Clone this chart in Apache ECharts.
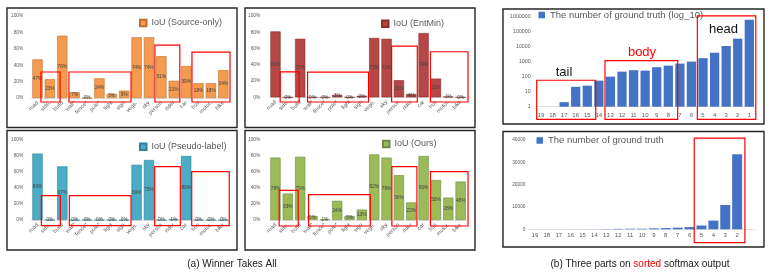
<!DOCTYPE html>
<html><head><meta charset="utf-8">
<script src="https://cdn.jsdelivr.net/npm/echarts@6/dist/echarts.min.js"></script>
<style>html,body{margin:0;padding:0;background:#fff}#c{width:773px;height:276px}</style>
</head><body><div id="c"></div>
<script>
// ---------- data ----------
const classNames = ['road','side.','build','wall*','fence*','pole*','light','sign','vege.','sky','person','rider','car','bus','motor.','bike'];
const iouSourceOnly = [47,23,76,7,0,24,5,9,74,74,51,21,39,18,18,34];
const iouEntMin     = [81,0,72,0,0,3,0,2,73,72,21,4,79,23,1,0];
const iouPseudo     = [83,0,67,0,0,0,0,0,69,75,0,1,80,0,0,0];
const iouOurs       = [78,33,79,5,1,24,5,13,82,78,56,22,80,50,28,48];
const rankLabels = ['19','18','17','16','15','14','13','12','11','10','9','8','7','6','5','4','3','2','1'];
const gtCounts   = [0,0,2,21,25,54,100,215,268,251,424,540,735,1000,1690,3900,10900,33600,600000];

// ---------- layout / annotations ----------
const FONT = 'Liberation Sans, Arial, sans-serif';
const grids = [
  {left:31.3, top:16, width:198.2, height:82},
  {left:269.3, top:16, width:197.5, height:81.3},
  {left:31.3, top:140, width:198.2, height:80},
  {left:269.3, top:140, width:197.5, height:80},
  {left:535.2, top:16.5, width:219.9, height:90.2},
  {left:529, top:140, width:226, height:89.3}
];
const panelBoxes = [[7,8,237,127.5],[245,8,475,127.5],[7,130.5,237,250],[245,130.5,475,250],[503,9,764,124],[503,131.5,764,247]];
// [grid, fromIndex, toIndex, topValue, bottomValue]
const redBoxes = [
  [0,0.28,1.82,31.7,-4.9],[0,2.54,7.55,31.7,-4.9],[0,9.48,11.49,64.6,-4.9],[0,12.47,15.54,56,-4.9],
  [1,0.38,1.92,31.2,-5.8],[1,2.60,7.54,31,-5.8],[1,9.41,11.49,63,-5.8],[1,12.55,15.6,56,-5.8],
  [2,0.31,1.84,30.4,-7.1],[2,2.57,7.55,30.4,-7.1],[2,9.46,11.53,66.6,-7.1],[2,12.45,15.48,60.4,-7.1],
  [3,0.30,1.84,37.1,-7.5],[3,2.68,7.68,31.6,-7.5],[3,9.43,11.46,66.6,-7.5],[3,12.55,15.6,60.4,-7.5],
  [4,-0.37,4.73,57.5,0.145],[4,5.53,11.81,1170,0.145],[4,13.51,18.56,1100000,0.145],
  [5,13.39,17.65,40800,-6000]
];

const chart = echarts.init(document.getElementById('c'), null, {renderer:'canvas'});
const axisLine = {show:true, lineStyle:{color:'#d9d9d9', width:0.8}};
const xAxes = [0,1,2,3].map(i => ({type:'category', gridIndex:i, data:classNames,
  axisTick:{show:false}, axisLine,
  axisLabel:{interval:0, rotate:45, fontSize:5.5, color:'#595959', margin:4, fontFamily:FONT}}));
xAxes.push({type:'category', gridIndex:4, data:rankLabels, axisTick:{show:false}, axisLine,
  axisLabel:{interval:0, fontSize:6, color:'#595959', margin:5.5, fontFamily:FONT}});
xAxes.push({type:'category', gridIndex:5, data:rankLabels.slice(0,18).concat([' ']), axisTick:{show:false}, axisLine,
  axisLabel:{interval:0, fontSize:6, color:'#595959', margin:3.5, fontFamily:FONT}});
const yAxes = [0,1,2,3].map(i => ({type:'value', gridIndex:i, min:0, max:100, interval:20,
  axisLine:{show:false}, axisTick:{show:false}, splitLine:{show:false},
  axisLabel:{formatter:'{value}%', fontSize:4.8, color:'#595959', margin:(i%2?9:8), fontFamily:FONT}}));
yAxes.push({type:'log', gridIndex:4, logBase:10, min:1, max:1000000,
  axisLine:{show:false}, axisTick:{show:false}, splitLine:{show:false},
  axisLabel:{formatter:v=>String(Math.round(v)), fontSize:5.3, color:'#595959', margin:4.5, fontFamily:FONT}});
yAxes.push({type:'value', gridIndex:5, min:0, max:40000, interval:10000,
  axisLine:{show:false}, axisTick:{show:false}, splitLine:{show:false},
  axisLabel:{formatter:v=>String(v), fontSize:4.8, color:'#595959', margin:3.5, fontFamily:FONT}});

function iouSeries(name, data, idx, color, border){
  return {type:'bar', name, xAxisIndex:idx, yAxisIndex:idx, data, barCategoryGap:'17%',
    itemStyle:{color, borderColor:border, borderWidth:0.6},
    label:{show:true, position:'inside', formatter:'{c}%', fontSize:4.7, color:'#404040', textBorderWidth:0, fontFamily:FONT}};
}
const series = [
  iouSeries('IoU (Source-only)', iouSourceOnly, 0, '#F59B4F', '#C06E2A'),
  iouSeries('IoU (EntMin)', iouEntMin, 1, '#B54846', '#8A2D2B'),
  iouSeries('IoU (Pseudo-label)', iouPseudo, 2, '#4BACC6', '#2E8399'),
  iouSeries('IoU (Ours)', iouOurs, 3, '#9BBB59', '#71893F'),
  {type:'bar', name:'The number of ground truth (log_10)', xAxisIndex:4, yAxisIndex:4,
   data: gtCounts.map(v => v > 0 ? v : null), barCategoryGap:'20%', itemStyle:{color:'#4472C4'}},
  {type:'bar', name:'The number of ground truth', xAxisIndex:5, yAxisIndex:5,
   data: gtCounts.slice(0,18), barCategoryGap:'16%', itemStyle:{color:'#4472C4'}}
];
function leg(name, left, top, fs){
  return {data:[name], left, top, padding:0, icon:'rect', itemWidth:6.5, itemHeight:6.5, selectedMode:false,
    textStyle:{fontSize:fs, color:'#595959', fontFamily:FONT}};
}
chart.setOption({
  animation:false,
  grid: grids,
  xAxis: xAxes, yAxis: yAxes, series,
  legend:[
    leg('IoU (Source-only)', 139, 18.5, 9),
    leg('IoU (EntMin)', 381, 19.2, 9),
    leg('IoU (Pseudo-label)', 139, 142.2, 9),
    leg('IoU (Ours)', 382, 139.5, 9),
    leg('The number of ground truth (log_10)', 538.5, 10, 9.5),
    leg('The number of ground truth', 536.5, 135.5, 9.5)
  ]
});

const g = [];
panelBoxes.forEach(b => g.push({type:'rect', shape:{x:b[0], y:b[1], width:b[2]-b[0], height:b[3]-b[1]},
  style:{fill:'none', stroke:'#262626', lineWidth:1.4}, z:10}));
redBoxes.forEach(([gi,f0,f1,top,bottom]) => {
  const p0 = chart.convertToPixel({gridIndex:gi}, [0, top]);
  const p1 = chart.convertToPixel({gridIndex:gi}, [1, bottom]);
  const step = p1[0]-p0[0];
  const x0 = p0[0] + f0*step, x1 = p0[0] + f1*step;
  g.push({type:'rect', shape:{x:x0, y:p0[1], width:x1-x0, height:p1[1]-p0[1]},
    style:{fill:'none', stroke:'#FF0000', lineWidth:1.2}, z:20});
});
const txt = (text, x, y, size, color) => ({type:'text', x, y, z:30,
  style:{text, fontSize:size, fill:color, fontFamily:FONT, textAlign:'center', textVerticalAlign:'middle'}});
g.push(txt('tail', 564, 72.3, 13, '#111'));
g.push(txt('body', 642, 52.7, 13, '#FF0000'));
g.push(txt('head', 723.5, 29.3, 13, '#111'));
g.push(txt('(a) Winner Takes All', 232, 264, 10, '#222'));
g.push({type:'text', x:640, y:264, z:30, style:{text:'(b) Three parts on {r|sorted} softmax output',
  fontSize:10, fill:'#222', fontFamily:FONT, textAlign:'center', textVerticalAlign:'middle',
  rich:{r:{fill:'#FF0000', fontSize:10, fontFamily:FONT}}}});
chart.setOption({graphic: g});
</script>
</body></html>
